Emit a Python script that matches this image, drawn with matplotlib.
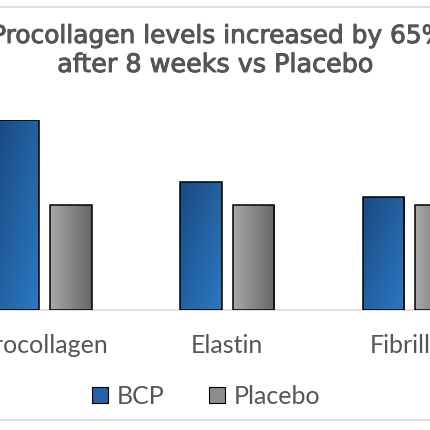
import matplotlib
matplotlib.use('Agg')
import matplotlib.pyplot as plt
import matplotlib.patheffects as pe
import numpy as np
from matplotlib.colors import LinearSegmentedColormap
from matplotlib.patches import Patch
from matplotlib.lines import Line2D

# Data (relative levels, placebo = 100)
categories = ['Procollagen', 'Elastin', 'Fibrillin']
bcp = [181, 122, 108]
placebo = [100, 100, 100]
series_names = ['BCP', 'Placebo']
title_lines = ['Procollagen levels increased by 65%', 'after 8 weeks vs Placebo']

text_color = '#555555'
blue_cmap = LinearSegmentedColormap.from_list('blue', ['#1b4a80', '#2a79c4'])
gray_cmap = LinearSegmentedColormap.from_list('gray', ['#a8a8a8', '#666666'])

fig = plt.figure(figsize=(4.3, 4.3), dpi=100)
ax = fig.add_axes([0, 1 - 310 / 430, 1, 190 / 430])

x = np.arange(len(categories))
width = 0.228
offset = 0.144

bars_bcp = ax.bar(x - offset, bcp, width, facecolor='none', edgecolor='black',
                  linewidth=1.1, zorder=3)
bars_pl = ax.bar(x + offset, placebo, width, facecolor='none', edgecolor='black',
                 linewidth=1.1, zorder=3)

# gradient fills clipped to each bar
n = 64
u = np.linspace(0, 1, n)
diag = (u[None, :] + u[:, None]) / 2
horiz = np.tile(u, (n, 1))
for bars, grad, cmap in [(bars_bcp, diag, blue_cmap), (bars_pl, horiz, gray_cmap)]:
    for b in bars:
        bx, by, bw, bh = b.get_x(), b.get_y(), b.get_width(), b.get_height()
        im = ax.imshow(grad, extent=[bx, bx + bw, by, by + bh], aspect='auto',
                       cmap=cmap, vmin=0, vmax=1, zorder=2, interpolation='bilinear')
        im.set_clip_path(b)

ax.set_xlim(-44.5 / 182.7, (430 - 44.5) / 182.7)
ax.set_ylim(0, max(bcp))
ax.set_yticks([])
ax.set_xticks(x, categories)
ax.tick_params(axis='x', length=0, pad=17.5, labelsize=18, labelcolor=text_color)
for lab in ax.get_xticklabels():
    lab.set_family('Lato')
for side in ['top', 'left', 'right']:
    ax.spines[side].set_visible(False)
ax.spines['bottom'].set_color('#d9d9d9')
ax.spines['bottom'].set_linewidth(1.2)
ax.spines['bottom'].set_zorder(1)
ax.patch.set_alpha(0)

handles = [Patch(facecolor='#2462a3', edgecolor='black', linewidth=0.8),
           Patch(facecolor='#8c8c8c', edgecolor='black', linewidth=0.8)]
fig.legend(handles, series_names, loc='center', bbox_to_anchor=(206 / 430, 1 - 396 / 430),
           ncol=2, frameon=False, prop=dict(family='Lato', size=18),
           handlelength=0.62, handleheight=0.62, handletextpad=0.35,
           columnspacing=1.8, labelcolor=text_color)

# title, slightly heavier strokes like the original
heavy = [pe.withStroke(linewidth=0.7, foreground=text_color)]
fig.text(219 / 430, 1 - 36 / 430, title_lines[0], ha='center', va='center',
         fontsize=17.9, color=text_color, path_effects=heavy)
fig.text(0.5, 1 - 65 / 430, title_lines[1], ha='center', va='center',
         fontsize=18.3, color=text_color, path_effects=heavy)

# chart area border lines
for yp in [7, 420]:
    fig.add_artist(Line2D([0, 1], [1 - yp / 430] * 2, color='#d9d9d9', lw=1.2,
                          transform=fig.transFigure))

fig.savefig('out.png', dpi=100)
